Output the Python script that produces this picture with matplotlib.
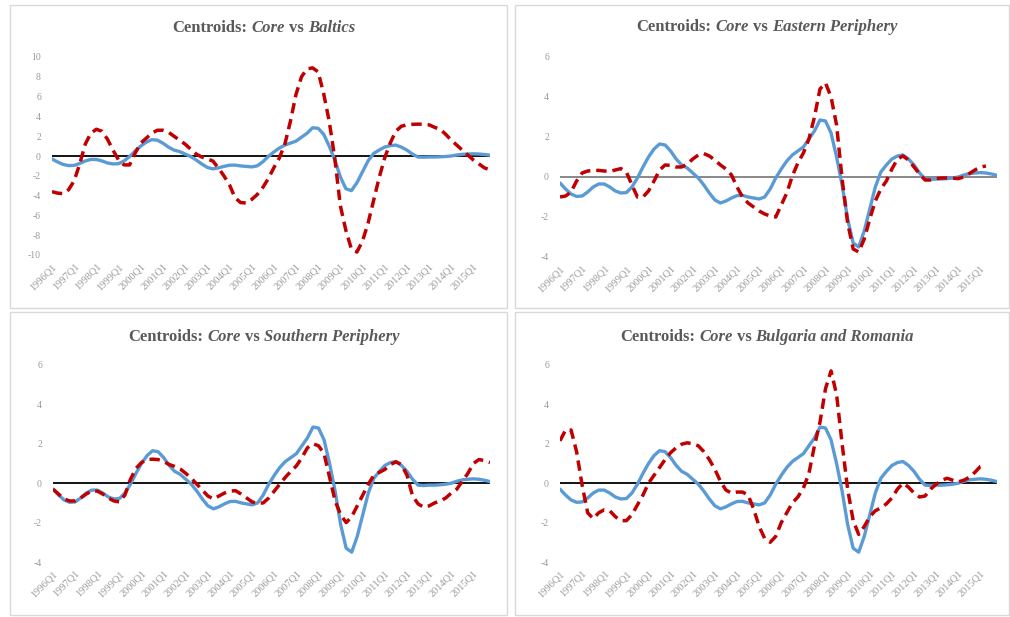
import numpy as np
import matplotlib
matplotlib.use('Agg')
import matplotlib.pyplot as plt
from matplotlib.patches import Rectangle

plt.rcParams['font.family'] = ['Liberation Serif', 'DejaVu Serif']
plt.rcParams['axes.unicode_minus'] = False

# quarterly data, 1996Q1 onwards
tick_labels = ['1996Q1', '1997Q1', '1998Q1', '1999Q1', '2000Q1', '2001Q1', '2002Q1',
               '2003Q1', '2004Q1', '2005Q1', '2006Q1', '2007Q1', '2008Q1', '2009Q1',
               '2010Q1', '2011Q1', '2012Q1', '2013Q1', '2014Q1', '2015Q1']

core = [-0.3, -0.6, -0.85, -0.97, -0.95, -0.75, -0.5, -0.35, -0.35, -0.5,
        -0.7, -0.8, -0.78, -0.5, -0.05, 0.5, 1.0, 1.4, 1.65, 1.6,
        1.3, 0.9, 0.6, 0.45, 0.2, -0.05, -0.4, -0.8, -1.15, -1.3,
        -1.2, -1.05, -0.93, -0.92, -1.0, -1.05, -1.1, -1.0, -0.6, -0.05,
        0.4, 0.8, 1.1, 1.3, 1.5, 1.9, 2.3, 2.85, 2.8, 2.2,
        1.0, -0.4, -2.1, -3.3, -3.5, -2.7, -1.6, -0.5, 0.25, 0.6,
        0.9, 1.05, 1.1, 0.9, 0.6, 0.2, -0.1, -0.12, -0.1, -0.1,
        -0.08, -0.05, 0.0, 0.1, 0.17, 0.2, 0.22, 0.2, 0.15, 0.08]

baltics = [-3.6, -3.75, -3.8, -3.4, -2.5, -0.8, 1.2, 2.3, 2.7, 2.5,
           1.7, 0.6, -0.4, -0.9, -0.9, 0.3, 1.3, 1.8, 2.3, 2.6,
           2.6, 2.4, 2.0, 1.6, 1.2, 0.7, 0.2, -0.1, -0.3, -0.5,
           -1.2, -2.0, -2.9, -4.2, -4.7, -4.75, -4.4, -3.9, -3.2, -2.3,
           -1.2, -0.2, 1.2, 3.5, 6.2, 8.0, 8.8, 8.9, 8.5, 6.3,
           3.5, -0.2, -5.0, -7.5, -9.4, -9.7, -8.6, -6.8, -4.5, -2.2,
           -0.2, 1.3, 2.5, 3.0, 3.15, 3.2, 3.22, 3.2, 3.15, 2.9,
           2.7, 2.2, 1.6, 1.1, 0.6, 0.1, -0.4, -0.8, -1.2, -1.4]

eastern = [-1.0, -0.95, -0.75, -0.2, 0.2, 0.3, 0.33, 0.33, 0.3, 0.28,
           0.35, 0.42, 0.25, -0.4, -1.0, -1.0, -0.7, -0.2, 0.35, 0.6,
           0.58, 0.5, 0.5, 0.65, 0.9, 1.1, 1.17, 1.05, 0.85, 0.6,
           0.4, 0.1, -0.5, -1.0, -1.3, -1.5, -1.7, -1.85, -1.95, -2.0,
           -1.4, -0.8, 0.05, 0.7, 1.2, 1.9, 3.0, 4.4, 4.7, 4.0,
           2.6, -0.1, -2.3, -3.6, -3.75, -3.1, -2.1, -1.2, -0.6, -0.2,
           0.4, 0.9, 1.05, 0.85, 0.5, 0.15, -0.15, -0.15, -0.08, -0.05,
           -0.05, -0.06, -0.08, 0.0, 0.17, 0.35, 0.5, 0.55]

southern = [-0.3, -0.55, -0.8, -0.9, -0.9, -0.75, -0.55, -0.4, -0.4, -0.55,
            -0.75, -0.9, -0.95, -0.6, 0.2, 0.75, 1.05, 1.2, 1.22, 1.2,
            1.1, 0.95, 0.85, 0.72, 0.5, 0.25, -0.05, -0.35, -0.65, -0.8,
            -0.65, -0.5, -0.4, -0.38, -0.55, -0.75, -0.95, -1.03, -1.0, -0.75,
            -0.4, -0.05, 0.3, 0.6, 0.88, 1.3, 1.8, 2.0, 1.9, 1.5,
            0.3, -0.9, -1.6, -2.0, -1.7, -1.15, -0.6, -0.05, 0.4, 0.55,
            0.7, 0.95, 1.08, 0.95, 0.4, -0.65, -1.05, -1.22, -1.15, -1.0,
            -0.9, -0.75, -0.5, -0.3, 0.1, 0.5, 1.0, 1.2, 1.15, 1.05]

bulg_rom = [2.15, 2.7, 2.7, 1.6, -0.1, -1.5, -1.8, -1.5, -1.35, -1.4,
            -1.7, -1.9, -1.9, -1.6, -1.1, -0.6, 0.0, 0.4, 0.8, 1.2,
            1.55, 1.8, 1.98, 2.05, 2.0, 1.9, 1.6, 1.2, 0.7, 0.1,
            -0.35, -0.5, -0.45, -0.45, -0.6, -1.3, -2.2, -2.8, -3.0, -2.7,
            -2.0, -1.5, -1.0, -0.7, -0.25, 0.5, 1.9, 3.1, 4.8, 5.7,
            4.5, 2.0, -0.3, -1.9, -2.6, -2.2, -1.7, -1.4, -1.25, -1.05,
            -0.75, -0.3, 0.0, -0.2, -0.5, -0.7, -0.65, -0.3, -0.05, 0.15,
            0.25, 0.15, 0.07, 0.15, 0.3, 0.55, 0.85, 0.95]

W, H = 1010, 617
BLUE = '#5B9BD5'
RED = '#C00000'
TICK = '#9a9a9a'
TITLE = '#595959'

fig = plt.figure(figsize=(W / 100, H / 100), dpi=100)


def px_rect(x0, y0, x1, y1):
    # pixel box (top-left origin) -> figure fraction [left, bottom, w, h]
    return [x0 / W, 1 - y1 / H, (x1 - x0) / W, (y1 - y0) / H]


def piece_title(xc, yc, parts, size=12):
    r = fig.canvas.get_renderer()
    space = 0.25 * size * fig.dpi / 72
    items = []
    for s, style in parts:
        t = fig.text(0, 1 - yc / H, s, fontsize=size, fontweight='bold',
                     fontstyle=style, color=TITLE, va='center')
        items.append((t, t.get_window_extent(r).width))
    total = sum(w for _, w in items) + space * (len(items) - 1)
    x = xc - total / 2
    for t, w in items:
        t.set_x(x / W)
        x += w + space


panels = [
    ('Baltics', baltics, (-10, 10), 'black', (52, 57, 490, 255), (10, 5, 507, 308), 28),
    ('Eastern Periphery', eastern, (-4, 6), '#7f7f7f', (560, 57, 997, 257), (515, 5, 1009, 308), 27),
    ('Southern Periphery', southern, (-4, 6), 'black', (53, 365, 490, 562), (10, 312, 507, 615), 337),
    ('Bulgaria and Romania', bulg_rom, (-4, 6), 'black', (560, 365, 997, 562), (515, 312, 1009, 615), 337),
]

for name, red, (lo, hi), zcol, box, frame, ty in panels:
    fig.add_artist(Rectangle((frame[0] / W, 1 - frame[3] / H),
                             (frame[2] - frame[0]) / W, (frame[3] - frame[1]) / H,
                             transform=fig.transFigure, fill=False,
                             edgecolor='#d9d9d9', lw=1))
    ax = fig.add_axes(px_rect(*box))
    ax.axhline(0, color=zcol, lw=1.3, zorder=1)
    ax.plot(np.arange(len(core)), core, color=BLUE, lw=2.4, zorder=2,
            solid_joinstyle='round', solid_capstyle='round')
    ax.plot(np.arange(len(red)), red, color=RED, lw=2.5, dashes=(3.0, 1.7), zorder=3,
            dash_joinstyle='round')
    ax.set_xlim(0, len(core) - 1)
    ax.set_ylim(lo, hi)
    ax.set_yticks(np.arange(lo, hi + 1, 2))
    ax.set_xticks(np.arange(0, len(core), 4))
    ax.set_xticklabels(tick_labels, rotation=45, ha='right', rotation_mode='anchor')
    ax.tick_params(axis='both', length=0, colors=TICK)
    ax.tick_params(axis='x', labelsize=7.5, pad=5)
    ax.tick_params(axis='y', labelsize=7, pad=8)
    for sp in ax.spines.values():
        sp.set_visible(False)
    ax.patch.set_alpha(0)
    xc = (frame[0] + frame[2]) / 2 + 5
    piece_title(xc, ty, [('Centroids:', 'normal'), ('Core', 'italic'),
                         ('vs', 'normal'), (name, 'italic')])

fig.savefig('out.png', dpi=100)
